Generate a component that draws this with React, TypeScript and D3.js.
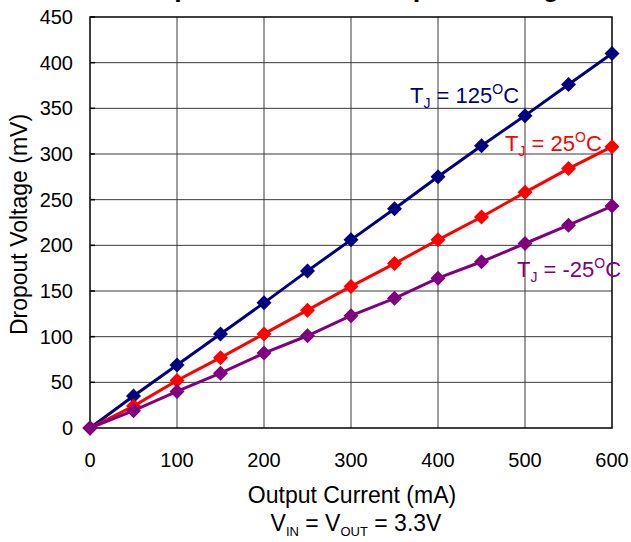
import React from "react";
import * as d3 from "d3";

const currents = [0, 50, 100, 150, 200, 250, 300, 350, 400, 450, 500, 550, 600];
const tj125 = [0, 35, 69, 103, 137, 172, 206, 240, 275, 309, 342, 376, 410];
const tj25 = [0, 24, 52, 77, 103, 129, 155, 180, 206, 231, 258, 284, 308];
const tjm25 = [0, 19, 40, 60, 82, 101, 123, 142, 164, 182, 202, 222, 243];
const xTicks = [0, 100, 200, 300, 400, 500, 600];
const yTicks = [0, 50, 100, 150, 200, 250, 300, 350, 400, 450];

const seriesList = [
  { name: "125", values: tj125, color: "#000080", label: "125", lx: 410, ly: 103 },
  { name: "25", values: tj25, color: "#FF0000", label: "25", lx: 505, ly: 151 },
  { name: "-25", values: tjm25, color: "#800080", label: "-25", lx: 517, ly: 277 },
];

const FONT = "'Liberation Sans', Arial, Helvetica, sans-serif";

export default function App() {
  const left = 90, right = 612, top = 17, bottom = 428;
  const x = d3.scaleLinear().domain([0, 600]).range([left, right]);
  const y = d3.scaleLinear().domain([0, 450]).range([bottom, top]);
  const line = d3
    .line<number>()
    .x((_, i) => x(currents[i]))
    .y((d) => y(d));
  const diamond = (cx: number, cy: number, r: number) =>
    `M${cx},${cy - r}L${cx + r},${cy}L${cx},${cy + r}L${cx - r},${cy}Z`;

  return (
    <svg
      width={631}
      height={542}
      style={{ position: "absolute", left: 0, top: 0, background: "#fff" }}
      fontFamily={FONT}
    >
      <rect x={0} y={0} width={631} height={542} fill="#fff" />
      <text x={351} y={-4} textAnchor="middle" fontSize={27} fontWeight="bold" fill="#000">
        Output Current vs Dropout Voltage
      </text>
      {/* grid */}
      {xTicks.slice(1, -1).map((t) => (
        <line key={"gx" + t} x1={x(t)} x2={x(t)} y1={top} y2={bottom} stroke="#3a3a3a" strokeWidth={1} />
      ))}
      {yTicks.slice(1, -1).map((t) => (
        <line key={"gy" + t} x1={left} x2={right} y1={y(t)} y2={y(t)} stroke="#3a3a3a" strokeWidth={1} />
      ))}
      {yTicks.map((t) => (
        <line key={"ty" + t} x1={left} x2={left + 5} y1={y(t)} y2={y(t)} stroke="#000" strokeWidth={1.5} />
      ))}
      <rect x={left} y={top} width={right - left} height={bottom - top} fill="none" stroke="#000" strokeWidth={1.5} />
      {/* tick labels */}
      {yTicks.map((t) => (
        <text key={"ly" + t} x={73} y={y(t) + 7} textAnchor="end" fontSize={20} fill="#000">
          {t}
        </text>
      ))}
      {xTicks.map((t) => (
        <text key={"lx" + t} x={x(t)} y={467} textAnchor="middle" fontSize={20} fill="#000">
          {t}
        </text>
      ))}
      {/* axis titles */}
      <text x={352} y={503} textAnchor="middle" fontSize={23} fill="#000">
        Output Current (mA)
      </text>
      <text x={356} y={531} textAnchor="middle" fontSize={23} fill="#000">
        V<tspan fontSize={13} dy={5}>IN</tspan>
        <tspan dy={-5}> = V</tspan>
        <tspan fontSize={13} dy={5}>OUT</tspan>
        <tspan dy={-5}> = 3.3V</tspan>
      </text>
      <text
        transform={`translate(27,${(top + bottom) / 2 + 2}) rotate(-90)`}
        textAnchor="middle"
        fontSize={23}
        fill="#000"
      >
        Dropout Voltage (mV)
      </text>
      {/* series */}
      {seriesList.map((s) => (
        <g key={s.name}>
          <path d={line(s.values) || ""} fill="none" stroke={s.color} strokeWidth={3} />
          {s.values.map((v, i) => (
            <path key={i} d={diamond(x(currents[i]), y(v), 7.5)} fill={s.color} />
          ))}
        </g>
      ))}
      {/* labels */}
      {seriesList.map((s) => (
        <text key={"lab" + s.name} x={s.lx} y={s.ly} fontSize={22} fill={s.color}>
          T<tspan fontSize={14} dy={5}>J</tspan>
          <tspan dy={-5}>{` = ${s.label}`}</tspan>
          <tspan fontSize={14} dy={-9}>O</tspan>
          <tspan dy={9}>C</tspan>
        </text>
      ))}
    </svg>
  );
}
